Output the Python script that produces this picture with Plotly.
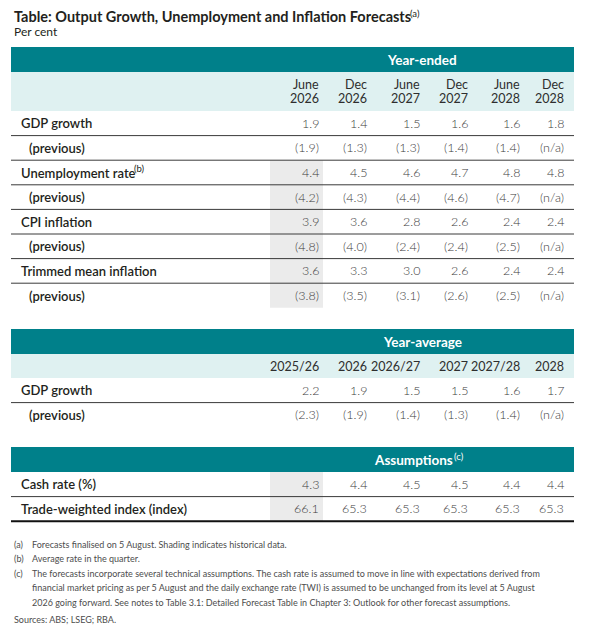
import plotly.graph_objects as go

# ---------------- data ----------------
ye_col_top = ["June", "Dec", "June", "Dec", "June", "Dec"]
ye_col_year = ["2026", "2026", "2027", "2027", "2028", "2028"]
ye_labels = ["GDP growth", "(previous)", "Unemployment rate", "(previous)",
             "CPI inflation", "(previous)", "Trimmed mean inflation", "(previous)"]
ye_label_notes = [None, None, "(b)", None, None, None, None, None]
gdp = [1.9, 1.4, 1.5, 1.6, 1.6, 1.8]
gdp_prev = [1.9, 1.3, 1.3, 1.4, 1.4, None]
unemp = [4.4, 4.5, 4.6, 4.7, 4.8, 4.8]
unemp_prev = [4.2, 4.3, 4.4, 4.6, 4.7, None]
cpi = [3.9, 3.6, 2.8, 2.6, 2.4, 2.4]
cpi_prev = [4.8, 4.0, 2.4, 2.4, 2.5, None]
tm = [3.6, 3.3, 3.0, 2.6, 2.4, 2.4]
tm_prev = [3.8, 3.5, 3.1, 2.6, 2.5, None]

ya_cols = ["2025/26", "2026", "2026/27", "2027", "2027/28", "2028"]
ya_labels = ["GDP growth", "(previous)"]
gdp_ya = [2.2, 1.9, 1.5, 1.5, 1.6, 1.7]
gdp_ya_prev = [2.3, 1.9, 1.4, 1.3, 1.4, None]

as_labels = ["Cash rate (%)", "Trade-weighted index (index)"]
cash = [4.3, 4.4, 4.5, 4.5, 4.4, 4.4]
twi = [66.1, 65.3, 65.3, 65.3, 65.3, 65.3]

title = "Table: Output Growth, Unemployment and Inflation Forecasts"
title_note = "(a)"
subtitle = "Per cent"
notes = [
    ("(a)", ["Forecasts finalised on 5 August. Shading indicates historical data."]),
    ("(b)", ["Average rate in the quarter."]),
    ("(c)", ["The forecasts incorporate several technical assumptions. The cash rate is assumed to move in line with expectations derived from",
             "financial market pricing as per 5 August and the daily exchange rate (TWI) is assumed to be unchanged from its level at 5 August",
             "2026 going forward. See notes to Table 3.1: Detailed Forecast Table in Chapter 3: Outlook for other forecast assumptions."]),
]
sources = "Sources: ABS; LSEG; RBA."

# ---------------- style / layout constants ----------------
W, H = 600, 642
PAGE_OFF = 8  # default body margin of the html page
FONT = "Lato"
TEAL = "#00808a"
LIGHT = "#dff1f1"
SHADE = "#ebebeb"
TXT = "#231f20"
NUM = "#3c3c3c"
LEFT, RIGHT = 11, 574
COL_RIGHT = [321, 369, 422, 470, 522, 566]
SHADE_X = (270, 323)
HEAD_CX = 422
ROW_H = 24.6

fig = go.Figure()
shapes = []
ann = []


def rect(x0, x1, y0, y1, color):
    shapes.append(dict(type="rect", xref="x", yref="y", x0=x0, x1=x1, y0=y0, y1=y1,
                       fillcolor=color, line=dict(width=0), layer="below"))


def hline(y, color="#3a3a3a", width=1):
    shapes.append(dict(type="line", xref="x", yref="y", x0=LEFT, x1=RIGHT, y0=y, y1=y,
                       line=dict(color=color, width=width)))


def text(x, y, s, size=12.5, color=TXT, anchor="left", weight=None):
    f = dict(family=FONT, size=size, color=color)
    if weight:
        f["weight"] = weight
    ann.append(dict(xref="x", yref="y", x=x, y=y, text=s, showarrow=False,
                    xanchor=anchor, yanchor="middle", font=f))


def fmt(v, prev):
    if v is None:
        return "(n/a)"
    s = f"{v:.1f}"
    return f"({s})" if prev else s


def section(top, head, col_lines, col_h, labels, rows, shade_from, last_line,
            head_note=None, label_notes=None):
    rect(LEFT, RIGHT, top, top + 25, TEAL)
    if head_note:
        # header + footnote marker, centred together over the value columns
        text(HEAD_CX + 33, top + 12.5, head, size=13.5, color="white", anchor="right", weight=700)
        text(HEAD_CX + 30, top + 9, head_note, size=9.5, color="white")
    else:
        text(HEAD_CX, top + 12.5, head, size=13.5, color="white", anchor="center", weight=700)
    y = top + 25
    if col_lines:
        rect(LEFT, RIGHT, y, y + col_h, LIGHT)
        k = len(col_lines)
        for j, line in enumerate(col_lines):
            cy = y + col_h / 2 + (j - (k - 1) / 2) * 14
            for cx, c in zip(COL_RIGHT, line):
                text(cx, cy, c, size=12.5, color="#2e2e2e", anchor="right")
        y += col_h
    body_top = y
    n = len(rows)
    if shade_from is not None:
        rect(SHADE_X[0], SHADE_X[1], body_top + shade_from * ROW_H, body_top + n * ROW_H, SHADE)
    for i, (lab, vals) in enumerate(zip(labels, rows)):
        cy = body_top + i * ROW_H + ROW_H / 2
        prev = lab.startswith("(previous")
        text(27 if prev else 19, cy, lab, size=13, color=TXT, weight=600)
        if label_notes and label_notes[i]:
            text(132, cy - 4, label_notes[i], size=9.5, color=TXT)
        for cx, v in zip(COL_RIGHT, vals):
            text(cx, cy, fmt(v, prev), size=12.5, color=NUM, anchor="right", weight=300)
        if i < n - 1:
            hline(body_top + (i + 1) * ROW_H)
    if last_line:
        hline(body_top + n * ROW_H, color="#111111", width=2)


section(47, "Year-ended", [ye_col_top, ye_col_year], 39, ye_labels,
        [gdp, gdp_prev, unemp, unemp_prev, cpi, cpi_prev, tm, tm_prev], 2, False,
        label_notes=ye_label_notes)
section(329, "Year-average", [ya_cols], 24, ya_labels, [gdp_ya, gdp_ya_prev], None, False)
section(447, "Assumptions", None, 0, as_labels, [cash, twi], 0, True, head_note="(c)")

# title (footnote marker drawn as its own small text so it stays inside the page)
text(12, 16, title, size=14.5, color=TXT, weight=700)
text(408, 13, title_note, size=9.5, color=TXT)
text(12, 31, subtitle, size=12, color=TXT)

# notes
y = 544
for lab, lines in notes:
    text(12, y, lab, size=9, color="#4d4d4d")
    for ln in lines:
        text(30, y, ln, size=9, color="#4d4d4d")
        y += 14.6
text(12, 619, sources, size=9, color="#4d4d4d")

fig.update_layout(
    width=W, height=H, margin=dict(l=0, r=0, t=0, b=0),
    paper_bgcolor="white", plot_bgcolor="white",
    xaxis=dict(range=[PAGE_OFF, W + PAGE_OFF], visible=False, fixedrange=True),
    yaxis=dict(range=[H + PAGE_OFF, PAGE_OFF], visible=False, fixedrange=True),
    shapes=shapes, annotations=ann, showlegend=False,
)
fig.write_html("out.html")
